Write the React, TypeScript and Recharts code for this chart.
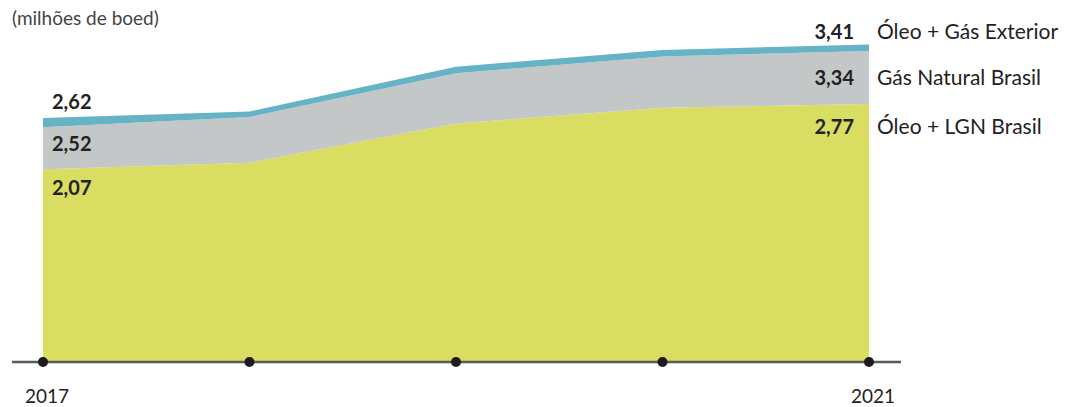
import React from 'react';
import { ComposedChart, Area, XAxis, YAxis, ReferenceLine, ReferenceDot, LabelList } from 'recharts';

const years = [2017, 2018, 2019, 2020, 2021];
const oleoLgnBrasil = [2.07, 2.14, 2.56, 2.73, 2.77];
const gasNaturalBrasil = [0.45, 0.49, 0.54, 0.55, 0.57];
const oleoGasExterior = [0.1, 0.06, 0.07, 0.07, 0.07];
const labelsFirst = ['2,07', '2,52', '2,62'];
const labelsLast = ['2,77', '3,34', '3,41'];
const seriesNames = ['Óleo + LGN Brasil', 'Gás Natural Brasil', 'Óleo + Gás Exterior'];
const xTicks = [2017, 2021];
const unitLabel = '(milhões de boed)';

const data = years.map((y, i) => ({
  year: y,
  oleo: oleoLgnBrasil[i],
  gas: gasNaturalBrasil[i],
  ext: oleoGasExterior[i],
}));

const COLORS = ['#d9dd62', '#c4c7c8', '#66b3c5'];
const FONT = 'Lato, "Open Sans", sans-serif';
const firstOffsets = [26, 24, -9];
const lastOffsets = [30, 34, -5];

const makeLabel = (s: number) => (props: any) => {
  const { x, y, index } = props;
  if (index === 0) {
    return (
      <text x={x + 9} y={y + firstOffsets[s]} fontFamily={FONT} fontWeight={700} fontSize={20} fill="#222">
        {labelsFirst[s]}
      </text>
    );
  }
  if (index === years.length - 1) {
    return (
      <g>
        <text x={x - 15} y={y + lastOffsets[s]} textAnchor="end" fontFamily={FONT} fontWeight={700} fontSize={20} fill="#222">
          {labelsLast[s]}
        </text>
        <text x={x + 8} y={y + lastOffsets[s]} fontFamily={FONT} fontSize={21} fill="#222">
          {seriesNames[s]}
        </text>
      </g>
    );
  }
  return null;
};

const YearTick = (props: any) => {
  const { x, payload } = props;
  return (
    <text x={x + 4} y={395} textAnchor="middle" fontFamily={FONT} fontSize={19} fill="#222">
      {payload.value}
    </text>
  );
};

export default function App() {
  return (
    <div style={{ position: 'relative', width: 1071, height: 399 }}>
      <ComposedChart width={1071} height={399} data={data} margin={{ top: 28, right: 210, bottom: 15, left: 35 }}>
        <XAxis
          dataKey="year"
          type="number"
          domain={[2017, 2021]}
          ticks={xTicks}
          axisLine={false}
          tickLine={false}
          tick={<YearTick />}
          interval={0}
          height={30}
        />
        <YAxis hide domain={[0, 3.5]} />
        <Area dataKey="oleo" stackId="a" type="linear" fill={COLORS[0]} fillOpacity={1} stroke="none" isAnimationActive={false} dot={false} activeDot={false}>
          <LabelList content={makeLabel(0)} />
        </Area>
        <Area dataKey="gas" stackId="a" type="linear" fill={COLORS[1]} fillOpacity={1} stroke="none" isAnimationActive={false} dot={false} activeDot={false}>
          <LabelList content={makeLabel(1)} />
        </Area>
        <Area dataKey="ext" stackId="a" type="linear" fill={COLORS[2]} fillOpacity={1} stroke="none" isAnimationActive={false} dot={false} activeDot={false}>
          <LabelList content={makeLabel(2)} />
        </Area>
        <ReferenceLine
          segment={[{ x: 2016.85, y: 0 }, { x: 2021.155, y: 0 }]}
          stroke="#5a5a5a"
          strokeWidth={2.5}
          ifOverflow="visible"
        />
        {years.map((y) => (
          <ReferenceDot key={y} x={y} y={0} r={5} fill="#1c1c1c" stroke="none" ifOverflow="visible" />
        ))}
      </ComposedChart>
      <div
        style={{
          position: 'absolute',
          left: 4,
          top: 0,
          zIndex: 10,
          fontFamily: FONT,
          fontSize: 19,
          lineHeight: '20px',
          color: '#444',
          whiteSpace: 'nowrap',
        }}
      >
        {unitLabel}
      </div>
    </div>
  );
}
